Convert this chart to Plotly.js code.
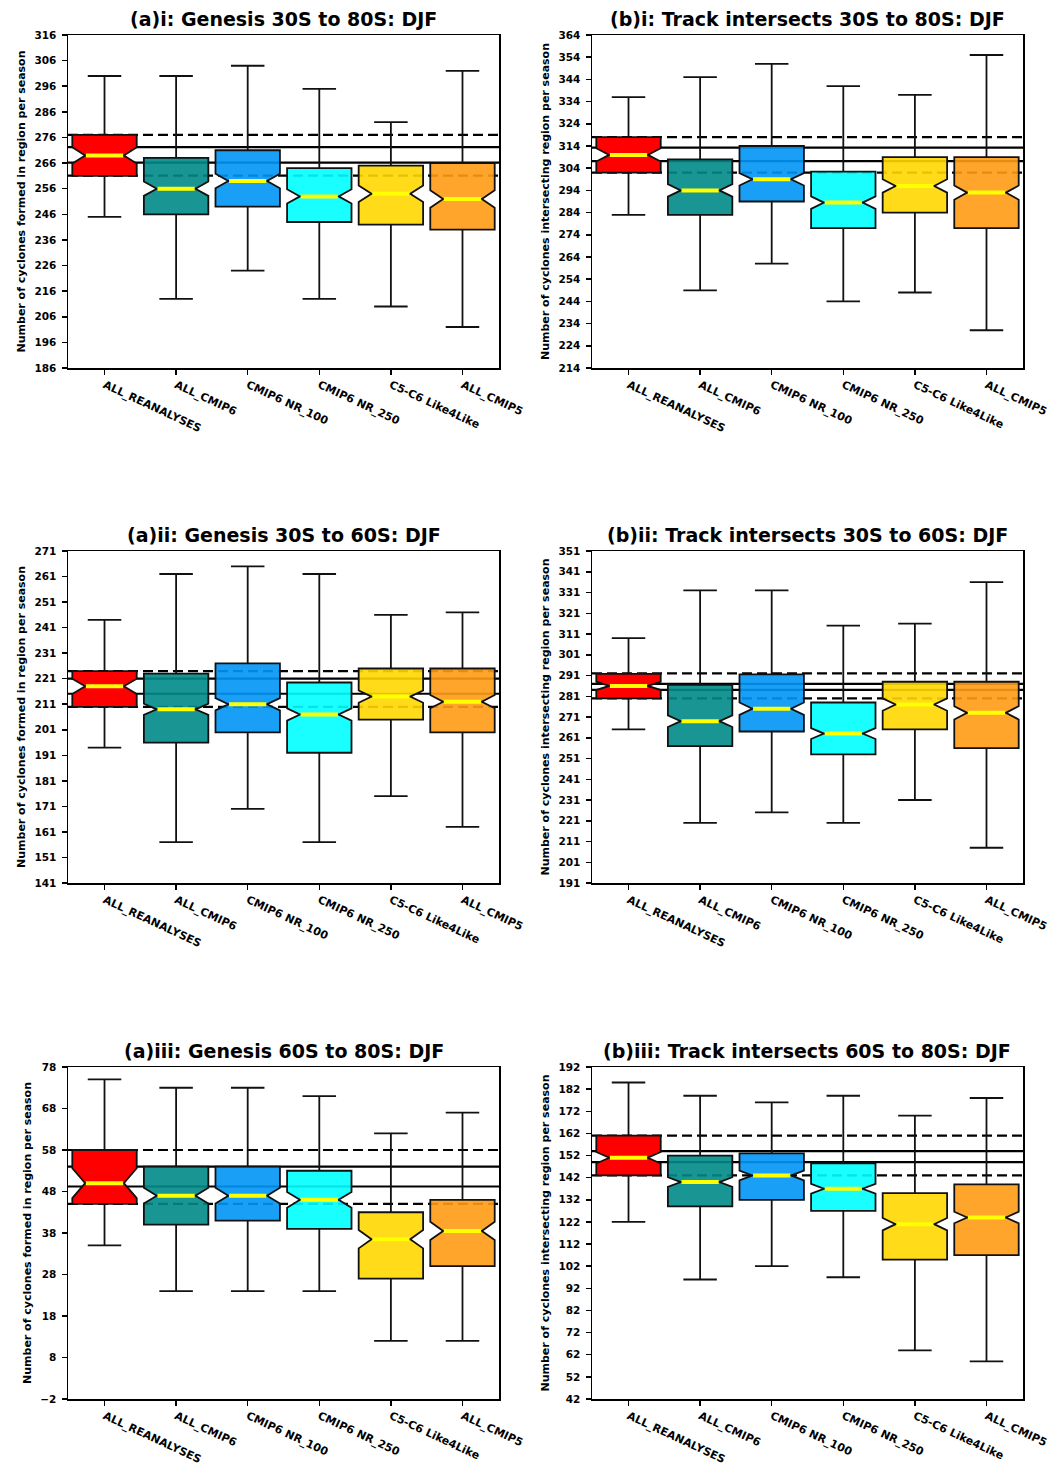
<!DOCTYPE html>
<html>
<head>
<meta charset="utf-8">
<script src="https://cdn.plot.ly/plotly-3.0.1.min.js"></script>
<style>
  html, body { margin: 0; padding: 0; background: #ffffff; }
  #chart { width: 1059px; height: 1467px; }
</style>
</head>
<body>
<div id="chart"></div>
<script>
// ---------------- DATA ----------------
const categories = ["ALL_REANALYSES", "ALL_CMIP6", "CMIP6 NR_100", "CMIP6 NR_250", "C5-C6 Like4Like", "ALL_CMIP5"];

const panelTitles = [
  "(a)i: Genesis 30S to 80S: DJF",
  "(b)i: Track intersects 30S to 80S: DJF",
  "(a)ii: Genesis 30S to 60S: DJF",
  "(b)ii: Track intersects 30S to 60S: DJF",
  "(a)iii: Genesis 60S to 80S: DJF",
  "(b)iii: Track intersects 60S to 80S: DJF"
];

const yTitles = [
  "Number of cyclones formed in region per season",
  "Number of cyclones intersecting region per season",
  "Number of cyclones formed in region per season",
  "Number of cyclones intersecting region per season",
  "Number of cyclones formed in region per season",
  "Number of cyclones intersecting region per season"
];

// y-axis ranges (tick labels start at the lower bound, step 10)
const yRanges = [[186, 316], [214, 364], [141, 271], [191, 351], [-2, 78], [42, 192]];

// Per panel (rows) and per category (columns)
const upperWhisker = [
  [300, 300, 304, 295, 282, 302],
  [336, 345, 351, 341, 337, 355],
  [244, 262, 265, 262, 246, 247],
  [309, 332, 332, 315, 316, 336],
  [75, 73, 73, 71, 62, 67],
  [185, 179, 176, 179, 170, 178]
];
const q3Values = [
  [277, 268, 271, 264, 265, 266],
  [318, 308, 314, 302.5, 309, 309],
  [224, 223, 227, 219.5, 225, 225],
  [291.8, 286.5, 291.5, 278, 288, 288],
  [58, 54, 54, 53, 43, 46],
  [161, 152, 153, 148.5, 135, 139]
];
const medianValues = [
  [269, 256, 259, 253, 254, 252],
  [310, 294, 299, 288.5, 296, 293],
  [218, 209, 211, 207, 214, 212],
  [286, 269, 275, 263, 277, 273],
  [50, 47, 47, 46, 36.5, 38.5],
  [151, 140, 143, 137, 121, 124]
];
const q1Values = [
  [261, 246, 249, 243, 242, 240],
  [302, 283, 289, 277, 284, 277],
  [210, 196, 200, 192, 205, 200],
  [280, 257, 264, 253, 265, 256],
  [45, 40, 41, 39, 27, 30],
  [143, 129, 132, 127, 105, 107]
];
const lowerWhisker = [
  [245, 213, 224, 213, 210, 202],
  [283, 249, 261, 244, 248, 231],
  [194, 157, 170, 157, 175, 163],
  [265, 220, 225, 220, 231, 208],
  [35, 24, 24, 24, 12, 12],
  [122, 96, 102, 97, 64, 59]
];
const notchHalfSpan = [
  [3.2, 2.8, 2.8, 2.8, 3.2, 3.4],
  [3.0, 2.8, 2.8, 2.8, 3.0, 3.2],
  [3.0, 2.2, 2.4, 2.4, 2.4, 2.6],
  [2.0, 2.8, 3.0, 2.6, 3.0, 3.2],
  [3.6, 1.9, 1.9, 1.9, 2.2, 2.2],
  [2.6, 2.2, 2.2, 2.2, 2.8, 2.6]
];
// Reference lines (reanalysis): solid pair and dashed pair
const refSolid = [[272.2, 266.2], [313.3, 307.2], [221, 215.1], [287, 284.1], [54, 49.2], [154, 149]];
const refDashed = [[277, 261.1], [318, 302], [224, 210], [292, 280], [58, 45], [161, 143]];

const boxColors = ["rgba(255,0,0,1)", "rgba(0,139,135,0.9)", "rgba(0,150,245,0.9)", "rgba(0,255,255,0.9)", "rgba(255,215,0,0.9)", "rgba(255,155,20,0.9)"];

// ---------------- LAYOUT GEOMETRY ----------------
const W = 1059, H = 1467;
const colX = [[68, 499], [592, 1023]];
const rowY = [[35, 368], [551, 883], [1067, 1399]];
const FONT = "DejaVu Sans";

const data = [];
const layout = {
  width: W, height: H,
  margin: {l: 0, r: 0, t: 0, b: 0},
  paper_bgcolor: "#ffffff",
  plot_bgcolor: "#ffffff",
  showlegend: false,
  boxmode: "overlay",
  shapes: [],
  annotations: []
};

const BOXW = 0.9;
for (let p = 0; p < 6; p++) {
  const col = p % 2, row = Math.floor(p / 2);
  const ax = p === 0 ? "" : String(p + 1);
  const xa = "x" + ax, ya = "y" + ax;
  const xDom = [colX[col][0] / W, colX[col][1] / W];
  const yDom = [1 - rowY[row][1] / H, 1 - rowY[row][0] / H];

  layout["xaxis" + ax] = {
    domain: xDom, anchor: ya,
    range: [-0.51, categories.length - 0.49],
    tickmode: "array",
    tickvals: categories.map((c, i) => i),
    ticktext: categories,
    tickangle: 25,
    ticks: "outside", ticklen: 5, tickwidth: 1.5, tickcolor: "#000",
    showline: true, mirror: true, linecolor: "#000", linewidth: 1.5,
    showgrid: false, zeroline: false,
    tickfont: {family: FONT, size: 11, color: "#000", weight: "bold"},
    fixedrange: true
  };
  layout["yaxis" + ax] = {
    domain: yDom, anchor: xa,
    range: yRanges[p],
    tickmode: "linear", tick0: yRanges[p][0], dtick: 10,
    ticks: "outside", ticklen: 5, tickwidth: 1.5, tickcolor: "#000",
    ticklabelstandoff: 3,
    showline: true, mirror: true, linecolor: "#000", linewidth: 1.5,
    showgrid: false, zeroline: false,
    tickfont: {family: FONT, size: 10.5, color: "#000", weight: "bold"},
    title: {text: yTitles[p], font: {family: FONT, size: 11, color: "#000", weight: "bold"}, standoff: 6},
    fixedrange: true
  };

  layout.annotations.push({
    text: panelTitles[p], xref: "paper", yref: "paper",
    x: (xDom[0] + xDom[1]) / 2, y: yDom[1],
    xanchor: "center", yanchor: "bottom", yshift: 3, showarrow: false,
    font: {family: FONT, size: 19, color: "#000", weight: "bold"}
  });

  // reference lines, drawn below the boxes
  refSolid[p].forEach(v => layout.shapes.push({
    type: "line", layer: "below", xref: xa + " domain", yref: ya,
    x0: 0, x1: 1, y0: v, y1: v, line: {color: "#000", width: 2.2}
  }));
  refDashed[p].forEach(v => layout.shapes.push({
    type: "line", layer: "below", xref: xa + " domain", yref: ya,
    x0: 0, x1: 1, y0: v, y1: v, line: {color: "#000", width: 2.2, dash: "10px,5px"}
  }));

  // boxes
  categories.forEach((c, i) => {
    data.push({
      type: "box", xaxis: xa, yaxis: ya,
      x: [i], q1: [q1Values[p][i]], median: [medianValues[p][i]], q3: [q3Values[p][i]],
      lowerfence: [lowerWhisker[p][i]], upperfence: [upperWhisker[p][i]],
      notched: true, notchspan: [notchHalfSpan[p][i]], notchwidth: 0.2,
      width: BOXW, whiskerwidth: 0.52,
      fillcolor: boxColors[i],
      line: {color: "#111", width: 1.8},
      boxpoints: false, hoverinfo: "skip", name: c
    });
  });

  // yellow median lines across the notch waist
  const mx = [], my = [];
  categories.forEach((c, i) => {
    const half = BOXW * (0.5 - 0.2) - 0.01;
    mx.push(i - half, i + half, null);
    my.push(medianValues[p][i], medianValues[p][i], null);
  });
  data.push({
    type: "scatter", mode: "lines", xaxis: xa, yaxis: ya,
    x: mx, y: my, line: {color: "#ffff00", width: 4}, hoverinfo: "skip"
  });
}

Plotly.newPlot("chart", data, layout, {staticPlot: true, displayModeBar: false});
</script>
</body>
</html>
